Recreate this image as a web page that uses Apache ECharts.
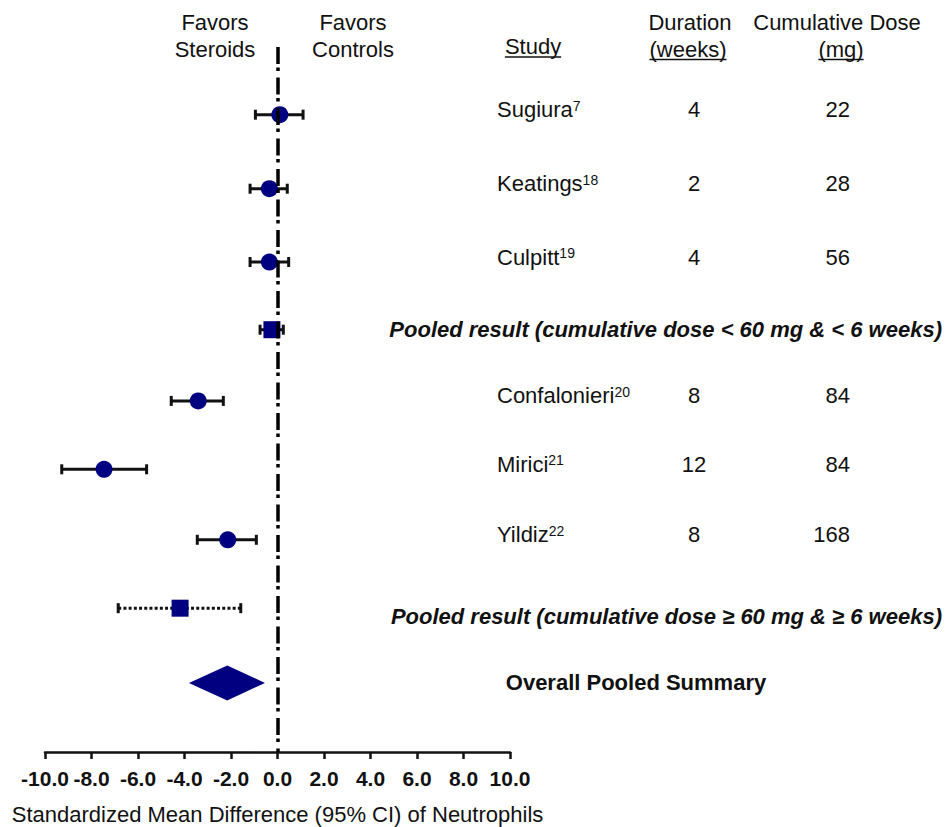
<!DOCTYPE html>
<html>
<head>
<meta charset="utf-8">
<title>Neutrophils forest plot</title>
<script src="https://cdn.jsdelivr.net/npm/echarts@6/dist/echarts.min.js"></script>
<style>
html, body { margin: 0; padding: 0; background: #fff; }
#chart { width: 945px; height: 827px; }
</style>
</head>
<body>
<div id="chart"></div>
<script>
// individual studies
const studies = ['Sugiura', 'Keatings', 'Culpitt', 'Confalonieri', 'Mirici', 'Yildiz']
const studyRefs = ['7', '18', '19', '20', '21', '22']
const durations = [4, 2, 4, 8, 12, 8]
const doses = [22, 28, 56, 84, 84, 168]
const studyMean = [0.1, -0.35, -0.35, -3.41, -7.46, -2.14]
const studyLow = [-0.95, -1.18, -1.18, -4.57, -9.28, -3.45]
const studyHigh = [1.1, 0.42, 0.48, -2.33, -5.63, -0.91]
const studyRow = [0.96, 2.01, 3.05, 5.02, 5.99, 6.99]

// pooled subgroups
const pooledLabels = [
  'Pooled result (cumulative dose < 60 mg & < 6 weeks)',
  'Pooled result (cumulative dose \u2265 60 mg & \u2265 6 weeks)'
]
const pooledMean = [-0.24, -4.19]
const pooledLow = [-0.75, -6.85]
const pooledHigh = [0.25, -1.58]
const pooledRow = [4.01, 7.96]

// overall summary
const overallLabels = ['Overall Pooled Summary']
const overallMean = [-2.16]
const overallLow = [-3.81]
const overallHigh = [-0.54]
const overallRow = [9.02]

// x axis
const xMin = -10
const xMax = 10
const xStep = 2
const xName = 'Standardized Mean Difference (95% CI) of Neutrophils'

// layout / style
const FONT = "'Liberation Sans', Arial, Helvetica, sans-serif"
const NAVY = '#000080'
const pooledLineType = ['solid', 'dotted']
const pooledTextDy = [0, 8]

const measure = (() => {
  const ctx = document.createElement('canvas').getContext('2d')
  return (text, font) => {
    ctx.font = font
    return ctx.measureText(text).width
  }
})()

// error bars: value(0)=low, value(1)=high, value(2)=row
function renderCI (lineTypes) {
  return function (params, api) {
    const lo = api.coord([api.value(0), api.value(2)])
    const hi = api.coord([api.value(1), api.value(2)])
    const dotted = lineTypes && lineTypes[params.dataIndex] === 'dotted'
    const capStyle = { stroke: '#111', lineWidth: 3 }
    return {
      type: 'group',
      children: [
        {
          type: 'line',
          shape: { x1: lo[0], y1: lo[1], x2: hi[0], y2: hi[1] },
          style: { stroke: '#111', lineWidth: 3, lineDash: dotted ? [3, 2.2] : null, lineCap: 'butt' }
        },
        { type: 'line', shape: { x1: lo[0], y1: lo[1] - 5, x2: lo[0], y2: lo[1] + 5 }, style: capStyle },
        { type: 'line', shape: { x1: hi[0], y1: hi[1] - 5, x2: hi[0], y2: hi[1] + 5 }, style: capStyle }
      ]
    }
  }
}

// study table (name, duration, dose) placed on each study row
function renderTable (params, api) {
  const i = params.dataIndex
  const y = api.coord([0, api.value(1)])[1] - 5
  return {
    type: 'group',
    children: [
      {
        type: 'text',
        x: 497,
        y: y,
        style: {
          text: '{n|' + studies[i] + '}{s|' + studyRefs[i] + '}',
          rich: {
            n: { fontSize: 22, lineHeight: 22, fontFamily: FONT, fill: '#111' },
            s: { fontSize: 14, lineHeight: 14, fontFamily: FONT, fill: '#111', verticalAlign: 'top' }
          },
          align: 'left',
          verticalAlign: 'middle'
        }
      },
      {
        type: 'text',
        x: 694,
        y: y,
        style: { text: String(durations[i]), font: '22px ' + FONT, fill: '#111', align: 'center', verticalAlign: 'middle' }
      },
      {
        type: 'text',
        x: 850,
        y: y,
        style: { text: String(doses[i]), font: '22px ' + FONT, fill: '#111', align: 'right', verticalAlign: 'middle' }
      }
    ]
  }
}

function renderRowLabel (labels, font, x, align, dys) {
  return function (params, api) {
    const i = params.dataIndex
    const y = api.coord([0, api.value(1)])[1] + (dys ? dys[i] : 0)
    return {
      type: 'text',
      x: x,
      y: y,
      style: { text: labels[i], font: font, fill: '#111', align: align, verticalAlign: 'middle' }
    }
  }
}

// diamond: value(0)=low, value(1)=high, value(2)=mean, value(3)=row
function renderDiamond (params, api) {
  const row = api.value(3)
  const l = api.coord([api.value(0), row])
  const r = api.coord([api.value(1), row])
  const m = api.coord([api.value(2), row])
  return {
    type: 'polygon',
    shape: { points: [[l[0], l[1]], [m[0], m[1] - 17.5], [r[0], r[1]], [m[0], m[1] + 17.5]] },
    style: { fill: NAVY }
  }
}

// header texts and underlines
function headerText (text, x, y, font) {
  return {
    type: 'text',
    x: x,
    y: y,
    style: { text: text, font: font || '22px ' + FONT, fill: '#111', align: 'center', verticalAlign: 'middle' },
    silent: true
  }
}
function underline (text, cx, y) {
  const w = measure(text, '22px ' + FONT)
  return {
    type: 'line',
    shape: { x1: cx - w / 2, y1: y, x2: cx + w / 2, y2: y },
    style: { stroke: '#111', lineWidth: 1.5 },
    silent: true
  }
}

const chart = echarts.init(document.getElementById('chart'), null, { renderer: 'svg' })

chart.setOption({
  animation: false,
  backgroundColor: '#fff',
  grid: { left: 45, right: 435, top: 47, bottom: 75, outerBoundsMode: 'none' },
  xAxis: {
    type: 'value',
    min: xMin,
    max: xMax,
    interval: xStep,
    name: xName,
    nameLocation: 'middle',
    nameGap: 51,
    nameTextStyle: { fontFamily: FONT, fontSize: 22, color: '#111' },
    axisLine: { show: true, onZero: false, lineStyle: { color: '#111', width: 2.5 } },
    axisTick: { show: true, inside: false, length: 7, lineStyle: { color: '#111', width: 2.5 } },
    axisLabel: {
      fontFamily: FONT,
      fontSize: 21,
      fontWeight: 'bold',
      color: '#111',
      margin: 16,
      hideOverlap: false,
      showMinLabel: true,
      showMaxLabel: true,
      formatter: v => v.toFixed(1)
    },
    splitLine: { show: false }
  },
  yAxis: {
    type: 'value',
    min: 0,
    max: 10,
    inverse: true,
    show: false,
    splitLine: { show: false }
  },
  graphic: [
    headerText('Favors', 215, 22.5),
    headerText('Steroids', 215, 49.5),
    headerText('Favors', 353, 22.5),
    headerText('Controls', 353, 49.5),
    headerText('Study', 533, 46),
    underline('Study', 533, 57),
    headerText('Duration', 690, 22.5),
    headerText('(weeks)', 688, 49),
    underline('(weeks)', 688, 59.5),
    headerText('Cumulative Dose', 837, 22.5),
    headerText('(mg)', 841, 49),
    underline('(mg)', 841, 59.5)
  ],
  series: [
    {
      name: 'Study CI',
      type: 'custom',
      z: 2,
      silent: true,
      renderItem: renderCI(null),
      encode: { x: [0, 1], y: 2 },
      data: studies.map((_, i) => [studyLow[i], studyHigh[i], studyRow[i]])
    },
    {
      name: 'Pooled CI',
      type: 'custom',
      z: 2,
      silent: true,
      renderItem: renderCI(pooledLineType),
      encode: { x: [0, 1], y: 2 },
      data: pooledLabels.map((_, i) => [pooledLow[i], pooledHigh[i], pooledRow[i]])
    },
    {
      name: 'Study',
      type: 'scatter',
      z: 3,
      silent: true,
      symbol: 'circle',
      symbolSize: 17,
      itemStyle: { color: NAVY, opacity: 1 },
      data: studies.map((_, i) => [studyMean[i], studyRow[i]]),
      markLine: {
        silent: true,
        symbol: 'none',
        label: { show: false },
        lineStyle: { color: '#000', width: 3.5, type: [17, 3.5, 3.5, 6.5] },
        data: [{ xAxis: 0 }]
      }
    },
    {
      name: 'Pooled',
      type: 'scatter',
      z: 3,
      silent: true,
      symbol: 'rect',
      symbolSize: 17,
      itemStyle: { color: NAVY, opacity: 1 },
      data: pooledLabels.map((_, i) => [pooledMean[i], pooledRow[i]])
    },
    {
      name: 'Overall',
      type: 'custom',
      z: 3,
      silent: true,
      renderItem: renderDiamond,
      encode: { x: [0, 1], y: 3 },
      data: overallLabels.map((_, i) => [overallLow[i], overallHigh[i], overallMean[i], overallRow[i]])
    },
    {
      name: 'Table',
      type: 'custom',
      silent: true,
      clip: false,
      renderItem: renderTable,
      encode: { x: 0, y: 1 },
      data: studies.map((_, i) => [0, studyRow[i]])
    },
    {
      name: 'Pooled labels',
      type: 'custom',
      silent: true,
      clip: false,
      renderItem: renderRowLabel(pooledLabels, 'italic bold 22px ' + FONT, 942, 'right', pooledTextDy),
      encode: { x: 0, y: 1 },
      data: pooledLabels.map((_, i) => [0, pooledRow[i]])
    },
    {
      name: 'Overall label',
      type: 'custom',
      silent: true,
      clip: false,
      renderItem: renderRowLabel(overallLabels, 'bold 22px ' + FONT, 636, 'center', null),
      encode: { x: 0, y: 1 },
      data: overallLabels.map((_, i) => [0, overallRow[i]])
    }
  ]
})
</script>
</body>
</html>
